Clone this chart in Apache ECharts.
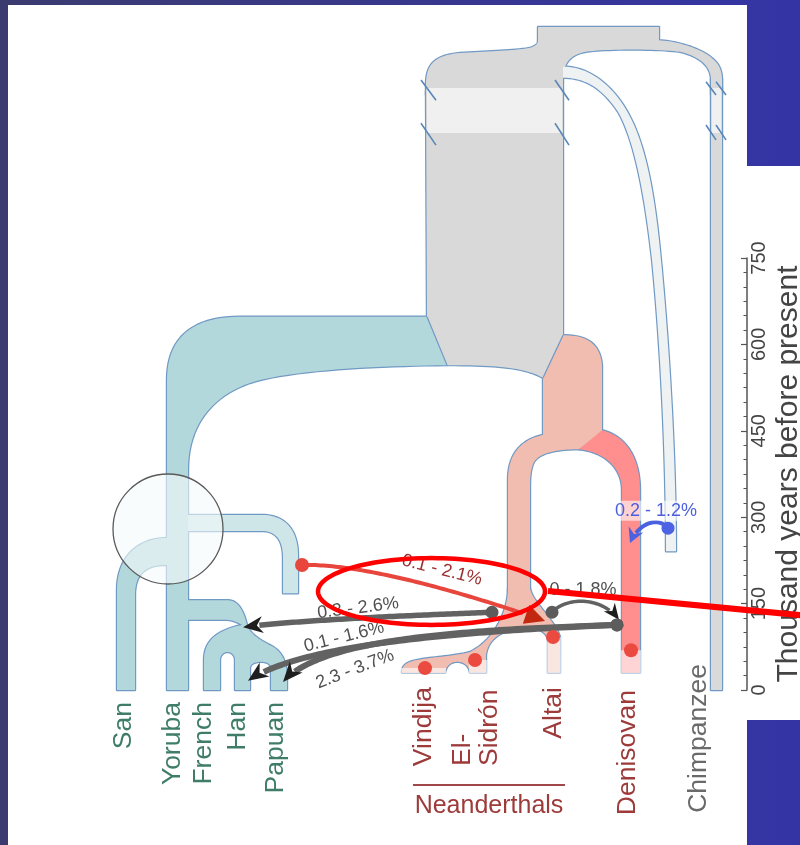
<!DOCTYPE html>
<html>
<head>
<meta charset="utf-8">
<title>Archaic admixture tree</title>
<script src="https://cdn.jsdelivr.net/npm/echarts@6/dist/echarts.min.js"></script>
<style>
html,body{margin:0;padding:0;background:#ffffff;}
#chart{width:800px;height:845px;}
</style>
</head>
<body>
<div id="chart"></div>
<script>
// ================= DATA =================
// Sampled populations (labels at the bottom of the tree)
const populations = ['San','Yoruba','French','Han','Papuan','Vindija','El-\nSidrón','Altai','Denisovan','Chimpanzee'];
const populationGroup = ['modern','modern','modern','modern','modern','archaic','archaic','archaic','archaic','ape'];
const groupName = 'Neanderthals';

// Time axis (thousand years before present)
const timeTicks = [0, 150, 300, 450, 600, 750];
const timeName = 'Thousand years before present';

// Archaic genomes: sample ages (kya)
const archaicSamples = ['Vindija','El Sidrón','Altai','Denisovan'];
const sampleAge = [38, 52, 92, 69];

// Gene flow events: label, source, target (x = lane position, y = kya)
const admixLabels = ['0.3 - 2.6%','0.1 - 1.6%','2.3 - 3.7%','0 - 1.8%','0.1 - 2.1%','0.2 - 1.2%'];
const admixKind   = ['gray','gray','gray','gray','red','blue'];
const admixFrom = [[492,135],[617,113],[617,113],[552,135],[302,217],[668,281]];
const admixTo   = [[243,109],[248,16],[283,14],[619,122],[545,120],[630,255]];

// ================= LAYOUT (tree geometry in x-units / kya) =================
const labelX = [124,173,204,238,276,424,476,554,628,699];
const labelT = [-21,-21,-21,-21,-21,5,-132,5,0,45];
const labelAlign = ['right','right','right','right','right','right','left','right','right','right'];
const sampleX = [425,475,553,631];
const sampleLaneL = [401,469,547,621];
const sampleLaneR = [446,487,561,641];
const admixVia1 = [[420,130],[450,101],[450,104],[565,160],[370,220],[660,299]];
const admixVia2 = [[300,122],[300,78],[320,87],[600,165],[485,156],[640,295]];
const admixLabelAt = [[358,142],[344,92],[355,36],[583,174],[442,208],[656,311]];
const admixLabelTilt = [7,14,21,0,-14,0];

const branchFill = ['#d9d9d9','#d9d9d9','#eef2f3','#d9d9d9','#cfe6e9','#b3d8dc','#b3d8dc','#b3d8dc','#f2bdb1','#ff8f8f','#f2bdb1'];
const branchPath = [
  // chimpanzee lane
  'M711 1062 L722 1062 L722 0 L711 0 Z',
  // human-chimp ancestor
  'M538 1151 L659 1151 L659 1128 C675 1127 700 1115 712 1097 C719 1087 722 1076 722 1059 L722 1033 L711 1033 L711 1059 C711 1080 702 1099 680 1108 C660 1113 610 1113 590 1109 C572 1106 563 1090 563 1062 L563 1033 L426 1033 L426 1056 C427 1087 435 1102 460 1106 C490 1109 525 1111 532 1116 C537 1120 538 1123 538 1128 Z',
  // super-archaic lineage
  'M563 1082 C585 1083 605 1059 620 1024 C640 976 652 903 660 764 C668 625 676 417 676 241 L666 241 C666 417 660 608 652 747 C644 868 634 955 618 1004 C602 1045 585 1063 563 1063 Z',
  // human / archaic trunk
  'M426 1040 L563 1040 L563 616 L543 542 C525 559 500 564 447 564 L427 648 Z',
  // early modern side branch
  'M182 304 L262 304 C285 304 298 278 298 234 L298 168 L283 168 L283 229 C283 260 276 276 262 276 L182 276 Z',
  // San
  'M117 0 L117 174 C117 226 135 264 168 264 L178 264 L178 217 L165 217 C145 217 135 200 135 165 L135 0 Z',
  // non-Africans (French, Han, Papuan)
  'M178 156 L227 156 C237 156 243 142 247 113 C250 96 262 85 272 76 C282 66 287 49 287 21 L287 0 L271 0 L271 38 C271 45 267 49 261 49 C255 49 250 45 250 38 L250 0 L235 0 L235 52 C235 61 231 66 227.5 66 C224 66 220 61 220 52 L220 0 L204 0 L204 52 C204 87 218 104 242 113 C235 120 230 122 225 122 L178 122 Z',
  // modern humans (Yoruba stem)
  'M427 648 L447 564 C380 563 290 556 250 533 C212 510 188 460 188 382 L188 0 L167 0 L167 538 C167 608 190 648 240 648 Z',
  // Neanderthal-Denisovan ancestor + Neanderthal stem
  'M543 542 L563 616 C585 616 600 604 602 564 L602 448 L579 418 C560 418 540 413 534 396 C530 382 530 365 530 347 L530 170 L508 170 L508 365 C508 408 520 434 543 443 Z',
  // Denisovan
  'M602 451 C626 441 640 403 640 347 L640 30 L622 30 L622 347 C622 385 605 413 579 418 Z',
  // Neanderthal populations
  'M508 177 C508 139 495 87 470 66 C450 57 425 57 412 50 C403 45 402 38 402 30 L445 30 C446 42 451 49 457 49 C464 49 469 42 470 30 L486 30 L486 61 C488 87 500 104 523 108 C535 109 546 104 548 87 L548 30 L560 30 L560 92 C555 122 532 153 530 177 Z'
];
const breakBands = ['M427 1045 L562 1045 L562 967 L427 967 Z','M712 1045 L721 1045 L721 967 L712 967 Z'];
const colourBoundaries = ['M427 648 L447 564','M543 542 L563 616'];
const slashes = [[[421,1059],[436,1024]],[[421,984],[436,946]],[[555,1059],[569,1024]],[[555,984],[569,946]],
                 [[706,1056],[716,1033]],[[716,1056],[726,1033]],[[706,981],[716,955]],[[716,981],[726,955]]];
const circleCentre = [168, 279.5];

// ================= STYLE =================
const FONT = "'Liberation Sans', Arial, Helvetica, sans-serif";
const OUTLINE = '#7099c4';
const groupColor = {modern:'#3f7d69', archaic:'#9d3a3a', ape:'#6a6a6a'};
const admixStyle = {
  gray: {line:'#626262', head:'#1e1e1e', label:'#505050', dot:'#5c5c5c'},
  red:  {line:'#e8463d', head:'#c0290f', label:'#9b2f2f', dot:'#e8463d'},
  blue: {line:'#4b62e0', head:'#4b62e0', label:'#4b5fe0', dot:'#4d63e3'}
};
const admixWidth = [5.5, 6, 6, 3.5, 4, 4];
const admixHead = [[20,8.5,6],[20,8.5,6],[20,8.5,6],[16,7,5],[20,10,0],[15,8,5]];

// ================= HELPERS =================
function pathPoints(api, str) {
  const tk = str.match(/[MLCZ]|-?\d*\.?\d+/g);
  const pts = [];
  let cur = null, cmd = null, i = 0;
  while (i < tk.length) {
    const t = tk[i];
    if (/^[MLCZ]$/.test(t)) { cmd = t; i++; continue; }
    if (cmd === 'M' || cmd === 'L') {
      const p = api.coord([+tk[i], +tk[i + 1]]); pts.push(p); cur = p; i += 2;
    } else if (cmd === 'C') {
      const a = api.coord([+tk[i], +tk[i + 1]]), b = api.coord([+tk[i + 2], +tk[i + 3]]), c = api.coord([+tk[i + 4], +tk[i + 5]]);
      for (let k = 1; k <= 20; k++) { pts.push(bez(cur, a, b, c, k / 20)); }
      cur = c; i += 6;
    } else { i++; }
  }
  return pts;
}
function bez(p0, p1, p2, p3, s) {
  const u = 1 - s;
  return [u*u*u*p0[0] + 3*u*u*s*p1[0] + 3*u*s*s*p2[0] + s*s*s*p3[0],
          u*u*u*p0[1] + 3*u*u*s*p1[1] + 3*u*s*s*p2[1] + s*s*s*p3[1]];
}

const chart = echarts.init(document.getElementById('chart'), null, {renderer: 'canvas'});

const option = {
  animation: false,
  graphic: [
    {type:'rect', z:-20, silent:true, shape:{x:0, y:0, width:800, height:845},
     style:{fill:{type:'linear', x:0, y:0, x2:1, y2:0, colorStops:[{offset:0, color:'#3b3b70'},{offset:1, color:'#3434a6'}]}}},
    {type:'rect', z:-10, silent:true, shape:{x:8, y:5, width:739, height:840}, style:{fill:'#ffffff'}},
    {type:'rect', z:-10, silent:true, shape:{x:746, y:166, width:54, height:554}, style:{fill:'#ffffff'}}
  ],
  grid: [
    {left:0, right:0, top:4.56, bottom:155, show:false, outerBoundsMode:'none', containLabel:false},
    {left:700, right:53, top:258, bottom:155, show:false, outerBoundsMode:'none', containLabel:false}
  ],
  xAxis: [
    {gridIndex:0, type:'value', min:0, max:800, show:false},
    {gridIndex:1, type:'value', min:0, max:1, show:false}
  ],
  yAxis: [
    {gridIndex:0, type:'value', min:0, max:1190, show:false},
    {gridIndex:1, type:'value', position:'right',
     min:timeTicks[0], max:timeTicks[timeTicks.length - 1], interval:timeTicks[1] - timeTicks[0],
     name:timeName, nameLocation:'middle', nameGap:42, nameRotate:90,
     nameTextStyle:{fontSize:30, color:'#444444', fontFamily:FONT, align:'center', verticalAlign:'middle'},
     axisLine:{show:true, onZero:false, lineStyle:{color:'#555555', width:1.5}},
     axisTick:{show:true, inside:true, length:6, lineStyle:{color:'#555555', width:1.2}},
     minorTick:{show:true, splitNumber:6, length:3.5, lineStyle:{color:'#555555', width:1}},
     axisLabel:{show:true, rotate:90, margin:12, fontSize:20, color:'#444444', fontFamily:FONT, align:'center', verticalAlign:'middle'},
     splitLine:{show:false}}
  ],
  series: [
    // pass 1: outlines of every branch
    {type:'custom', id:'outline', coordinateSystem:'cartesian2d', xAxisIndex:0, yAxisIndex:0, silent:true, clip:false, z:2,
     data: branchPath.map((_, i) => [i, 0]),
     renderItem: (params, api) => ({type:'polygon', shape:{points: pathPoints(api, branchPath[params.dataIndex])},
                                     style:{fill:'none', stroke:OUTLINE, lineWidth:2.4, lineJoin:'round'}})},
    // pass 2: fills (hide inner outlines so branches merge)
    {type:'custom', id:'fill', coordinateSystem:'cartesian2d', xAxisIndex:0, yAxisIndex:0, silent:true, clip:false, z:3,
     data: branchPath.map((_, i) => [i, 0]),
     renderItem: (params, api) => ({type:'polygon', shape:{points: pathPoints(api, branchPath[params.dataIndex])},
                                     style:{fill:branchFill[params.dataIndex], stroke:null}})},
    // details: time breaks, sample-age shading, colour boundaries, circle
    {type:'custom', id:'details', coordinateSystem:'cartesian2d', xAxisIndex:0, yAxisIndex:0, silent:true, clip:false, z:4,
     data: [[0, 0]],
     renderItem: (params, api) => {
       const children = [];
       breakBands.forEach(p => children.push({type:'polygon', shape:{points: pathPoints(api, p)}, style:{fill:'#f0f0f0'}}));
       sampleAge.forEach((age, i) => {
         const a = api.coord([sampleLaneL[i], age]), b = api.coord([sampleLaneR[i], 28]);
         children.push({type:'rect', shape:{x:a[0], y:a[1], width:b[0] - a[0], height:b[1] - a[1]}, style:{fill:'rgba(255,255,255,0.62)'}});
       });
       colourBoundaries.forEach(p => children.push({type:'polyline', shape:{points: pathPoints(api, p)}, style:{fill:'none', stroke:OUTLINE, lineWidth:1.2}}));
       slashes.forEach(s => {
         const a = api.coord(s[0]), b = api.coord(s[1]);
         children.push({type:'line', shape:{x1:a[0], y1:a[1], x2:b[0], y2:b[1]}, style:{stroke:'#5a86b8', lineWidth:1.6}});
       });
       const c = api.coord(circleCentre), r = api.size([55, 0])[0];
       children.push({type:'circle', shape:{cx:c[0], cy:c[1], r:r}, style:{fill:'rgba(243,250,250,0.6)', stroke:'#5a5a5a', lineWidth:1.3}});
       return {type:'group', children};
     }},
    // gene-flow arrows
    {type:'custom', id:'admixture', coordinateSystem:'cartesian2d', xAxisIndex:0, yAxisIndex:0, silent:true, clip:false, z:5,
     data: admixLabels.map((_, i) => [i, 0]),
     renderItem: (params, api) => {
       const i = params.dataIndex;
       const st = admixStyle[admixKind[i]];
       const p0 = api.coord(admixFrom[i]), p1 = api.coord(admixVia1[i]), p2 = api.coord(admixVia2[i]), p3 = api.coord(admixTo[i]);
       let dx = p3[0] - p2[0], dy = p3[1] - p2[1];
       const dl = Math.hypot(dx, dy); dx /= dl; dy /= dl;
       const nx = -dy, ny = dx;
       const L = admixHead[i][0], W = admixHead[i][1], N = admixHead[i][2];
       const base = [p3[0] - dx * L, p3[1] - dy * L];
       const head = [p3, [base[0] + nx * W, base[1] + ny * W], [p3[0] - dx * (L - N), p3[1] - dy * (L - N)], [base[0] - nx * W, base[1] - ny * W]];
       const stop = L - N + 1.5;
       const pts = [];
       for (let k = 0; k <= 80; k++) {
         const q = bez(p0, p1, p2, p3, k / 80);
         if (k > 0 && Math.hypot(q[0] - p3[0], q[1] - p3[1]) < stop) break;
         pts.push(q);
       }
       const lp = api.coord(admixLabelAt[i]);
       const labelStyle = {text: admixLabels[i], fill: st.label, fontSize:18, fontFamily:FONT, align:'center', verticalAlign:'middle'};
       if (admixKind[i] === 'blue') { labelStyle.backgroundColor = 'rgba(255,255,255,0.6)'; labelStyle.padding = [1, 3]; }
       return {type:'group', children:[
         {type:'polyline', shape:{points: pts}, style:{fill:'none', stroke:st.line, lineWidth:admixWidth[i], lineCap:'butt', lineJoin:'round'}},
         {type:'polygon', shape:{points: head}, style:{fill:st.head}},
         {type:'text', x:lp[0], y:lp[1], rotation: admixLabelTilt[i] * Math.PI / 180, style: labelStyle}
       ]};
     }},
    // gene-flow source dots
    {type:'custom', id:'sources', coordinateSystem:'cartesian2d', xAxisIndex:0, yAxisIndex:0, silent:true, clip:false, z:6,
     data: admixFrom.map(p => [p[0], p[1]]),
     renderItem: (params, api) => {
       const p = api.coord([api.value(0), api.value(1)]);
       const st = admixStyle[admixKind[params.dataIndex]];
       return {type:'circle', shape:{cx:p[0], cy:p[1], r: admixKind[params.dataIndex] === 'red' ? 7 : 6.5}, style:{fill:st.dot}};
     }},
    // archaic sample dots
    {type:'custom', id:'samples', coordinateSystem:'cartesian2d', xAxisIndex:0, yAxisIndex:0, silent:true, clip:false, z:6,
     data: sampleAge.map((t, i) => [sampleX[i], t]),
     renderItem: (params, api) => {
       const p = api.coord([api.value(0), api.value(1)]);
       return {type:'circle', shape:{cx:p[0], cy:p[1], r:7}, style:{fill:'#ea4a40'}};
     }},
    // population labels
    {type:'custom', id:'labels', coordinateSystem:'cartesian2d', xAxisIndex:0, yAxisIndex:0, silent:true, clip:false, z:6,
     data: labelX.map((x, i) => [x, labelT[i]]),
     renderItem: (params, api) => {
       const i = params.dataIndex;
       const p = api.coord([api.value(0), api.value(1)]);
       return {type:'text', x:p[0], y:p[1], rotation: Math.PI / 2,
               style:{text: populations[i], fill: groupColor[populationGroup[i]], fontSize:26.5, fontFamily:FONT,
                      align: labelAlign[i], verticalAlign:'middle', lineHeight:27}};
     }},
    // Neanderthal group label
    {type:'custom', id:'group', coordinateSystem:'cartesian2d', xAxisIndex:0, yAxisIndex:0, silent:true, clip:false, z:6,
     data: [[489, -201]],
     renderItem: (params, api) => {
       const a = api.coord([413, -165]), b = api.coord([565, -165]);
       const p = api.coord([api.value(0), api.value(1)]);
       return {type:'group', children:[
         {type:'line', shape:{x1:a[0], y1:a[1], x2:b[0], y2:b[1]}, style:{stroke:'#a04848', lineWidth:2}},
         {type:'text', x:p[0], y:p[1], style:{text: groupName, fill: groupColor.archaic, fontSize:25, fontFamily:FONT, align:'center', verticalAlign:'middle'}}
       ]};
     }},
    // red hand-drawn annotation
    {type:'custom', id:'annotation', coordinateSystem:'cartesian2d', xAxisIndex:0, yAxisIndex:0, silent:true, clip:false, z:10,
     data: [[431.5, 171]],
     renderItem: (params, api) => {
       const c = api.coord([api.value(0), api.value(1)]);
       const rx = api.size([113.5, 0])[0], ry = api.size([0, 58])[1];
       const pts = [];
       for (let k = 0; k < 120; k++) { const a = k / 120 * 2 * Math.PI; pts.push([c[0] + rx * Math.cos(a), c[1] + ry * Math.sin(a)]); }
       const a = api.coord([548, 172]), b = api.coord([812, 128]);
       return {type:'group', children:[
         {type:'polygon', shape:{points: pts}, style:{fill:'none', stroke:'#ff0000', lineWidth:4.5}},
         {type:'line', shape:{x1:a[0], y1:a[1], x2:b[0], y2:b[1]}, style:{stroke:'#ff0000', lineWidth:6}}
       ]};
     }}
  ]
};
chart.setOption(option);
</script>
</body>
</html>
